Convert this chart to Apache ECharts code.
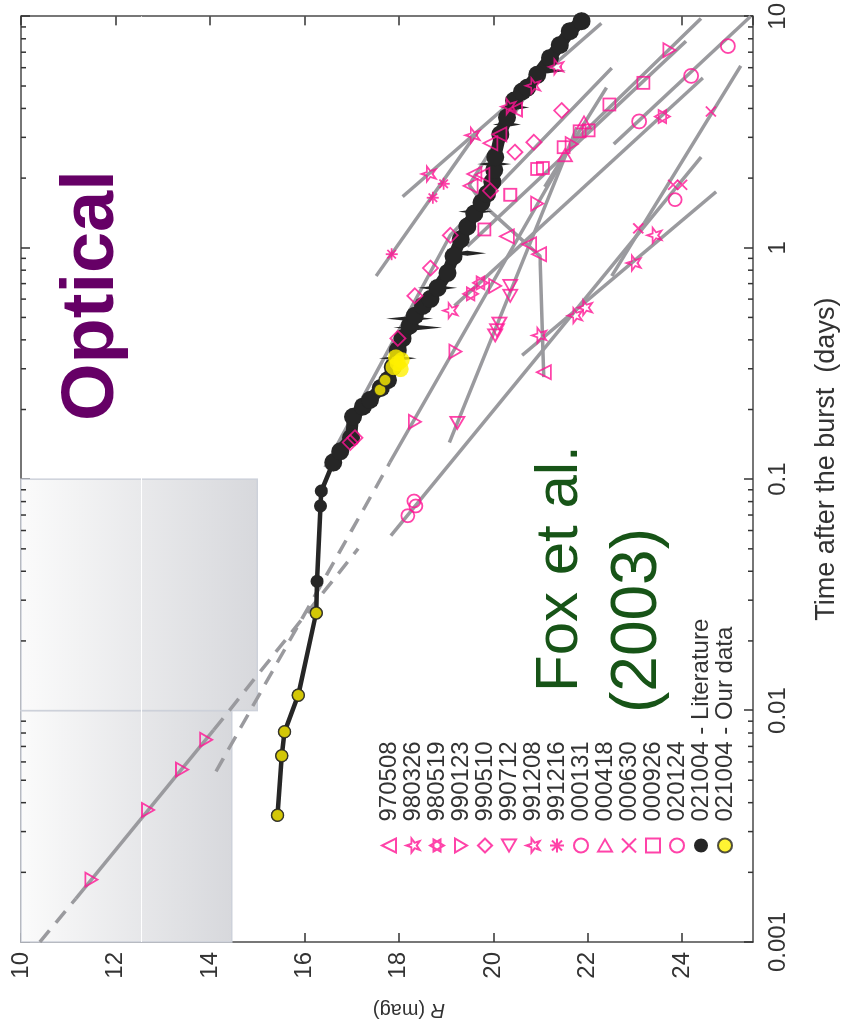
<!DOCTYPE html>
<html>
<head>
<meta charset="utf-8">
<script src="https://cdn.jsdelivr.net/npm/echarts@6/dist/echarts.min.js"></script>
<style>
  html, body { margin: 0; padding: 0; background: #fff; overflow: hidden; }
  #wrap { position: absolute; left: 0; top: 0; width: 845px; height: 1035px; overflow: hidden; }
  /* the figure is drawn upright, then turned a quarter turn like the original */
  #chart { position: absolute; left: 0; top: 0; width: 1035px; height: 845px;
           transform-origin: 0 0; transform: translate(0, 1035px) rotate(-90deg); }
</style>
</head>
<body>
<div id="wrap"><div id="chart"></div></div>
<script>
// time after the burst (days), R magnitude
const grb970508 = [[0.290,21.07],[0.938,20.97],[1.035,20.76],[1.12,20.29],[1.852,19.52],[2.084,19.60],[2.065,19.77],[2.83,19.94],[3.09,20.13],[3.955,20.46]];
const fit970508 = [[0.276,21.07],[0.92,20.99],[1.506,19.83],[1.871,19.49],[8.05,21.45]];

const grb980326 = [[0.418,20.97],[0.509,21.73],[0.551,21.94],[0.859,22.97],[1.132,23.41]];
const fit980326 = [[0.343,20.61],[1.746,24.72]];

const grb980519 = [[0.632,19.52],[0.705,19.73],[3.69,23.58]];
const fit980519 = [[0.561,19.18],[5.42,24.44]];

const grb990123 = [[0.00186,11.49],[0.00372,12.69],[0.00556,13.41],[0.00748,13.92],[0.177,18.34],[0.356,19.20],[0.684,20.04],[1.552,20.93],[2.805,21.66],[7.14,23.73]];
const fit990123flash = [[0.00154,11.16],[0.00824,14.08]];
const ext990123flashA = [[0.001,10.40],[0.00154,11.16]];
const ext990123flashB = [[0.00824,14.08],[0.0501,17.14]];
const fit990123late = [[0.118,17.81],[2.805,21.66],[9.79,24.4]];
const ext990123late = [[0.00546,14.13],[0.118,17.81]];

const grb990510 = [[0.144,16.97],[0.151,17.07],[0.406,17.98],[0.620,18.34],[0.817,18.67],[1.132,19.09],[1.763,19.94],[2.589,20.46],[2.858,20.86],[3.917,21.45]];
const fit990510 = [[0.1125,16.44],[1.132,19.09],[5.98,22.51]];

const grb990712 = [[0.175,19.24],[0.470,20.13],[0.440,20.08],[0.418,20.04],[0.684,20.36],[0.620,20.36]];
const fit990712 = [[0.144,19.07],[3.31,21.77]];

const grb991208 = [[0.535,19.09],[2.084,18.63],[3.062,19.56],[4.074,20.32],[5.012,20.84],[6.05,21.33]];
const fit991208 = [[1.663,18.08],[9.33,22.29]];

const grb991216 = [[0.938,17.85],[1.645,18.72],[1.89,18.95]];
const fit991216 = [[0.755,17.52],[3.155,19.66]];

const grb000131 = [[0.0695,18.19],[0.0766,18.36],[0.0805,18.32],[1.614,23.85]];
const fit000131 = [[0.057,17.83],[2.466,24.4]];

const grb000418 = [[2.512,21.52],[3.48,21.92]];
const fit000418 = [[1.834,21.09],[4.92,22.4]];

const grb000630 = [[1.213,23.07],[1.871,23.81],[1.871,24.0],[3.88,24.61]];
const fit000630 = [[0.755,22.51],[6.11,25.24]];

const grb000926 = [[1.2,19.81],[1.694,20.36],[2.19,20.93],[2.212,21.05],[2.72,21.49],[3.186,21.83],[3.216,22.02],[4.16,22.46],[5.16,23.18]];
const fit000926 = [[1.015,19.45],[7.81,24.08]];

const grb020124 = [[3.516,23.09],[5.53,24.19],[7.44,24.97]];
const fit020124 = [[2.805,22.55],[10,25.45]];

// 021004: literature light curve (early thin part, then the dense part)
const grb021004litEarly = [[0.00353,15.43],[0.00638,15.52],[0.0081,15.58],[0.01165,15.87],[0.0264,16.25],[0.0362,16.27],[0.0766,16.34],[0.0889,16.36],[0.118,16.61]];
const grb021004litLate = [[0.118,16.61],[0.132,16.76],[0.151,16.99],[0.186,17.03],[0.206,17.24],[0.220,17.39],[0.248,17.62],[0.268,17.77],[0.305,17.87],[0.361,17.98],[0.406,18.08],[0.461,18.23],[0.509,18.34],[0.561,18.51],[0.601,18.67],[0.671,18.82],[0.778,19.03],[0.920,19.16],[1.087,19.31],[1.236,19.45],[1.406,19.60],[1.567,19.75],[1.711,19.87],[1.927,19.98],[2.168,20.02],[2.465,20.04],[3.09,20.15],[3.656,20.29],[4.325,20.44],[4.73,20.61],[4.92,20.72],[5.59,20.93],[6.61,21.2],[7.52,21.41],[8.63,21.62],[9.53,21.87]];
// [t, mag, error]
const grb021004litErr = [[5.81,21.14,0.40],[4.04,20.46,0.30],[3.41,20.29,0.30],[2.30,20.02,0.36],[1.433,19.62,0.36],[0.947,19.45,0.40],[0.671,18.82,0.42],[0.494,18.23,0.50],[0.452,18.40,0.52],[0.333,17.98,0.40]];
const grb021004ours = [[0.00353,15.43],[0.00638,15.52],[0.0081,15.58],[0.01165,15.87],[0.0264,16.25],[0.243,17.60],[0.268,17.71]];
const grb021004oursBlob = [[0.305,17.89],[0.327,18.06],[0.336,17.94],[0.299,18.04],[0.317,17.98]];

const burstNames = ['970508','980326','980519','990123','990510','990712','991208','991216','000131','000418','000630','000926','020124'];
const magTicks = [10, 12, 14, 16, 18, 20, 22, 24];
const decades = [0.001, 0.01, 0.1, 1];
const minorSteps = [2, 3, 4, 5, 6, 7, 8, 9];

const pink = '#ff1493';
const grey = '#9a9a9e';
const ink = '#333';
const black = '#262626';
const font = 'Liberation Sans, Arial, sans-serif';

const sym = {
  up: 'triangle',
  down: 'path://M0,0L20,0L10,17.3Z',
  left: 'path://M17.3,0L17.3,20L0,10Z',
  right: 'path://M0,0L17.3,10L0,20Z',
  star: 'path://M10,0L12.35,6.76L19.51,6.91L13.8,11.24L15.88,18.09L10,14L4.12,18.09L6.2,11.24L0.49,6.91L7.65,6.76Z',
  hexa: 'path://M10,0L18.66,15L1.34,15ZM10,20L1.34,5L18.66,5Z',
  aster: 'path://M10,0L10,20M0,10L20,10M2.9,2.9L17.1,17.1M17.1,2.9L2.9,17.1',
  cross: 'path://M0,0L20,20M20,0L0,20'
};

const minorTicks = [];
decades.forEach(d => minorSteps.forEach(s => minorTicks.push(+(d * s).toPrecision(3))));

function fitLine(data, dashed) {
  return {
    type: 'line', data: data, symbol: 'none', silent: true, z: 2,
    lineStyle: { color: grey, width: 3.5, type: dashed ? [15, 10] : 'solid', cap: 'butt' }
  };
}
function burst(name, data, symbol, size) {
  return {
    name: name, type: 'scatter', data: data, symbol: symbol, symbolSize: size || 14,
    symbolKeepAspect: true, z: 5, silent: true,
    itemStyle: { color: 'none', borderColor: pink, borderWidth: 1.8 }
  };
}

const shadeFill = new echarts.graphic.LinearGradient(0, 0, 0, 1, [
  { offset: 0, color: '#fbfbfb' }, { offset: 1, color: '#d7d8dc' }
]);

const chart = echarts.init(document.getElementById('chart'));

const series = [
  Object.assign(fitLine(ext990123flashA, true), {
    markArea: {
      silent: true, z: 1,
      itemStyle: { color: shadeFill, borderColor: '#cdd1da', borderWidth: 1.5 },
      data: [
        [{ coord: [0.001, 10] }, { coord: [0.01, 14.46] }],
        [{ coord: [0.01, 10] }, { coord: [0.1, 15.0] }]
      ]
    },
    markLine: {
      silent: true, z: 1, symbol: 'none', label: { show: false },
      lineStyle: { color: '#ffffff', width: 1.2, type: 'solid' },
      data: [{ yAxis: 12.55 }]
    }
  }),
  fitLine(ext990123flashB, true),
  fitLine(ext990123late, true),
  fitLine(fit990123flash),
  fitLine(fit990123late),
  fitLine(fit970508),
  fitLine(fit980326),
  fitLine(fit980519),
  fitLine(fit990510),
  fitLine(fit990712),
  fitLine(fit991208),
  fitLine(fit991216),
  fitLine(fit000131),
  fitLine(fit000418),
  fitLine(fit000630),
  fitLine(fit000926),
  fitLine(fit020124),
  {
    name: '021004 - Literature', type: 'line', data: grb021004litEarly, z: 3, silent: true,
    symbol: 'circle', symbolSize: 13, showSymbol: true,
    itemStyle: { color: black },
    lineStyle: { color: black, width: 4.5 }
  },
  {
    name: '021004 - Literature', type: 'line', data: grb021004litLate, z: 3, silent: true,
    symbol: 'circle', symbolSize: 18, showSymbol: true,
    itemStyle: { color: black },
    lineStyle: { color: black, width: 12 }
  },
  {
    name: '021004 - Literature', type: 'custom', silent: true, z: 3,
    data: grb021004litErr, encode: { x: 0, y: 1 },
    renderItem: function (params, api) {
      const t = api.value(0), m = api.value(1), e = api.value(2);
      const c = api.coord([t, m]);
      const a = api.coord([t, m - e]);
      const b = api.coord([t, m + e]);
      return {
        type: 'polygon',
        shape: { points: [[c[0], a[1]], [c[0] + 2.5, c[1]], [c[0], b[1]], [c[0] - 2.5, c[1]]] },
        style: { fill: black }
      };
    }
  },
  {
    name: '021004 - Our data', type: 'scatter', data: grb021004ours, z: 4, silent: true,
    symbol: 'circle', symbolSize: 12,
    itemStyle: { color: '#fff000', borderColor: black, borderWidth: 1.5 }
  },
  {
    name: '021004 - Our data', type: 'scatter', data: grb021004oursBlob, z: 4, silent: true,
    symbol: 'circle', symbolSize: 16,
    itemStyle: { color: '#fff000', borderColor: '#fff000', borderWidth: 0 }
  },
  burst('970508', grb970508, sym.up),
  burst('980326', grb980326, sym.star, 15),
  burst('980519', grb980519, sym.hexa, 15),
  burst('990123', grb990123, sym.down),
  burst('990510', grb990510, 'diamond', 15),
  burst('990712', grb990712, sym.left),
  burst('991208', grb991208, sym.star, 15),
  burst('991216', grb991216, sym.aster, 12),
  burst('000131', grb000131, 'circle', 13),
  burst('000418', grb000418, sym.right),
  burst('000630', grb000630, sym.cross, 10),
  burst('000926', grb000926, 'rect', 12),
  burst('020124', grb020124, 'circle', 14),
  {
    type: 'custom', silent: true, z: 6,
    data: minorTicks.map(t => [t, 10]),
    encode: { x: 0, y: 1 },
    renderItem: function (params, api) {
      const t = api.value(0);
      const a = api.coord([t, 10]);
      const b = api.coord([t, 25.5]);
      return {
        type: 'group',
        children: [
          { type: 'line', shape: { x1: a[0], y1: a[1], x2: a[0], y2: a[1] + 5 }, style: { stroke: ink, lineWidth: 1.5 } },
          { type: 'line', shape: { x1: b[0], y1: b[1], x2: b[0], y2: b[1] - 5 }, style: { stroke: ink, lineWidth: 1.5 } }
        ]
      };
    }
  }
];

const logLabel = v => String(parseFloat(Number(v).toPrecision(6)));

const option = {
  animation: false,
  backgroundColor: '#ffffff',
  textStyle: { fontFamily: font },
  grid: { left: 93, right: 8, top: 21, bottom: 89, containLabel: false },
  legend: {
    data: burstNames.concat([{ name: '021004 - Literature', icon: 'circle' }, { name: '021004 - Our data', icon: 'circle' }]),
    orient: 'vertical', left: 180, top: 377, padding: 0,
    itemWidth: 14, itemHeight: 14, itemGap: 0,
    selectedMode: false,
    textStyle: { color: ink, fontSize: 24, fontFamily: font, padding: [0, 0, 0, 12] }
  },
  xAxis: [
    {
      type: 'log', logBase: 10, min: 0.001, max: 10, position: 'bottom',
      name: 'Time after the burst  (days)', nameLocation: 'middle', nameGap: 60,
      nameTextStyle: { color: ink, fontSize: 27, padding: [0, 0, 0, 40] },
      axisLine: { lineStyle: { color: '#4a4a4a', width: 1.5 } },
      axisTick: { inside: true, length: 9, lineStyle: { color: ink, width: 1.5 } },
      axisLabel: { color: ink, fontSize: 24, margin: 13, formatter: logLabel },
      splitLine: { show: false }
    },
    {
      type: 'log', logBase: 10, min: 0.001, max: 10, position: 'top',
      axisLine: { lineStyle: { color: '#4a4a4a', width: 1.5 } },
      axisTick: { inside: true, length: 9, lineStyle: { color: ink, width: 1.5 } },
      axisLabel: { show: false }, splitLine: { show: false }
    }
  ],
  yAxis: [
    {
      type: 'value', inverse: true, min: 10, max: 25.5, interval: 2, position: 'left',
      name: '{i|R} (mag)', nameLocation: 'middle', nameGap: 58, nameRotate: 90,
      nameTextStyle: { color: ink, fontSize: 20, padding: [0, 44, 0, 0], rich: { i: { fontStyle: 'italic', fontSize: 20, color: ink } } },
      axisLine: { lineStyle: { color: '#4a4a4a', width: 1.5 } },
      axisTick: { inside: true, length: 9, lineStyle: { color: ink, width: 1.5 } },
      axisLabel: { color: ink, fontSize: 24, margin: 10, showMaxLabel: false,
                   formatter: v => (magTicks.indexOf(v) >= 0 ? String(v) : '') },
      splitLine: { show: false }
    },
    {
      type: 'value', inverse: true, min: 10, max: 25.5, interval: 2, position: 'right',
      axisLine: { lineStyle: { color: '#4a4a4a', width: 1.5 } },
      axisTick: { inside: true, length: 9, lineStyle: { color: ink, width: 1.5 } },
      axisLabel: { show: false }, splitLine: { show: false }
    }
  ],
  graphic: [
    { type: 'text', x: 614, y: 93, z: 10,
      style: { text: 'Optical', fill: '#660066', font: 'bold 74px ' + font, verticalAlign: 'middle' } },
    { type: 'text', x: 343, y: 560, z: 10,
      style: { text: 'Fox et al.', fill: '#175417', font: '60px ' + font, verticalAlign: 'middle' } },
    { type: 'text', x: 322, y: 638, z: 10,
      style: { text: '(2003)', fill: '#175417', font: '64px ' + font, verticalAlign: 'middle' } }
  ],
  series: series
};

chart.setOption(option);
</script>
</body>
</html>
